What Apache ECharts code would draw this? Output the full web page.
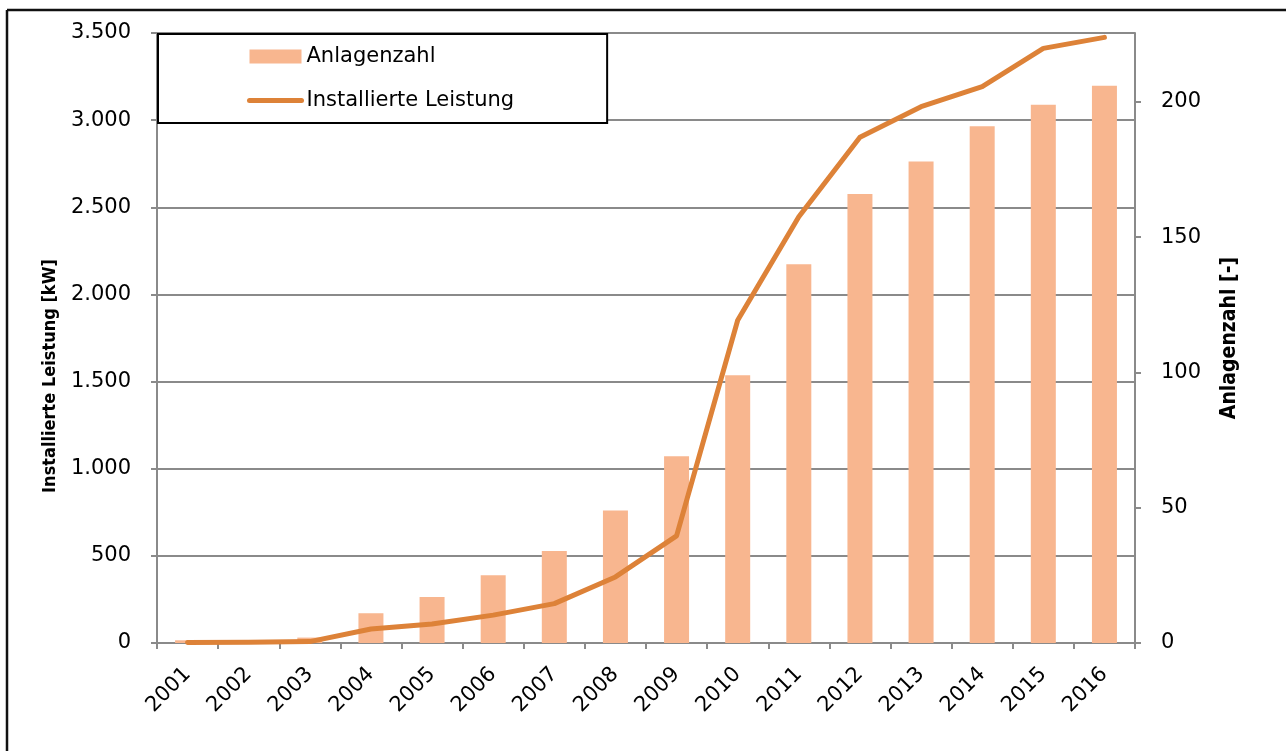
<!DOCTYPE html>
<html>
<head>
<meta charset="utf-8">
<script src="https://cdn.jsdelivr.net/npm/echarts@6/dist/echarts.min.js"></script>
<style>
html,body{margin:0;padding:0;background:#fff;}
#chart{width:1286px;height:751px;}
</style>
</head>
<body>
<div id="chart"></div>
<script>
const years = ['2001','2002','2003','2004','2005','2006','2007','2008','2009','2010','2011','2012','2013','2014','2015','2016'];
const anlagenzahl = [1,1,2,11,17,25,34,49,69,99,140,166,178,191,199,206];
const leistung = [3,4,8,80,109,160,226,379,615,1852,2446,2902,3077,3192,3412,3475];
const rightTicks = [0,50,100,150,200];

const FONT = 'DejaVu Sans';
const gridColor = '#8a8a8a';
const fmt = v => String(v).replace(/\B(?=(\d{3})+(?!\d))/g, '.');

const chart = echarts.init(document.getElementById('chart'), null, {renderer:'canvas'});
chart.setOption({
  animation:false,
  backgroundColor:'#fff',
  textStyle:{fontFamily:FONT},
  graphic:[
    {type:'line', shape:{x1:7,y1:10,x2:1286,y2:10}, style:{stroke:'#111',lineWidth:2.5}, z:100},
    {type:'line', shape:{x1:7,y1:10,x2:7,y2:751}, style:{stroke:'#111',lineWidth:2.5}, z:100}
  ],
  grid:{left:157,right:151,top:33,bottom:108,containLabel:false},
  legend:{
    left:158, top:34,
    orient:'vertical',
    padding:[12,93,12,89],
    borderColor:'#000', borderWidth:2,
    backgroundColor:'#fff',
    itemWidth:52, itemHeight:14, itemGap:23,
    textStyle:{fontFamily:FONT,fontSize:21,color:'#000'},
    data:[
      {name:'Anlagenzahl',icon:'rect'},
      {name:'Installierte Leistung',itemStyle:{opacity:0},lineStyle:{width:5,cap:'round'}}
    ]
  },
  xAxis:{
    type:'category', data:years,
    axisLine:{lineStyle:{color:gridColor,width:2}},
    axisTick:{show:true,length:6,lineStyle:{color:gridColor,width:2}},
    axisLabel:{rotate:45,interval:0,margin:28,fontFamily:FONT,fontSize:21,color:'#000'}
  },
  yAxis:[
    {
      type:'value', min:0, max:3500, interval:500,
      name:'Installierte Leistung [kW]', nameLocation:'middle', nameGap:98, nameRotate:90,
      nameTextStyle:{fontFamily:'DejaVu Sans Condensed',fontWeight:'bold',fontSize:18,color:'#000',padding:[0,76,0,0]},
      axisLine:{show:true,lineStyle:{color:gridColor,width:2}},
      axisTick:{show:true,length:6,lineStyle:{color:gridColor,width:2}},
      axisLabel:{formatter:fmt,margin:26,fontFamily:FONT,fontSize:21,color:'#000'},
      splitLine:{show:true,lineStyle:{color:gridColor,width:2}}
    },
    {
      type:'value', min:0, max:225.5, position:'right',
      name:'Anlagenzahl [-]', nameLocation:'middle', nameGap:84, nameRotate:90,
      nameTextStyle:{fontFamily:'DejaVu Sans Condensed',fontWeight:'bold',fontSize:21,color:'#000'},
      axisLine:{show:true,lineStyle:{color:gridColor,width:2}},
      axisTick:{show:true,length:6,customValues:rightTicks,lineStyle:{color:gridColor,width:2}},
      axisLabel:{customValues:rightTicks,margin:26,fontFamily:FONT,fontSize:21,color:'#000'},
      splitLine:{show:false}
    }
  ],
  series:[
    {
      name:'Anlagenzahl', type:'bar', yAxisIndex:1, data:anlagenzahl,
      barWidth:25, itemStyle:{color:'#F8B68F'}, z:2
    },
    {
      name:'Installierte Leistung', type:'line', yAxisIndex:0, data:leistung,
      symbol:'none', smooth:false,
      lineStyle:{color:'#DD8238',width:5,cap:'round',join:'round'},
      itemStyle:{color:'#DD8238'}, z:3
    }
  ]
});
</script>
</body>
</html>
